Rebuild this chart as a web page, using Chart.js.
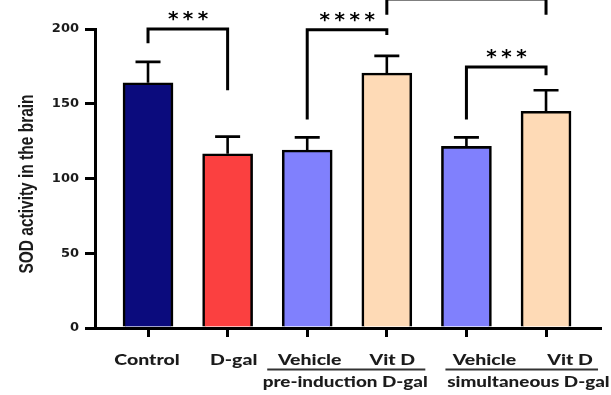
<!DOCTYPE html>
<html>
<head>
<meta charset="utf-8">
<script src="https://cdn.jsdelivr.net/npm/chart.js@4/dist/chart.umd.min.js"></script>
<style>
  html, body { margin: 0; padding: 0; background: #ffffff; }
  #wrap { width: 611px; height: 395px; position: relative; }
</style>
</head>
<body>
<div id="wrap"><canvas id="sod"></canvas></div>
<script>
// Group names under each bar
const categories = ['Control', 'D-gal', 'Vehicle', 'Vit D', 'Vehicle', 'Vit D'];
// Mean SOD activity per group
const sodMeans = [164, 116.5, 119, 170.5, 121.5, 145];
// Error (SEM) per group
const sodErrors = [14, 11.5, 8.5, 11.5, 6, 14];
// Y axis ticks
const yTicks = [0, 50, 100, 150, 200];
// Y axis caption
const yAxisTitle = 'SOD activity in the brain';
// Treatment schedule groups spanning two bars each
const scheduleGroups = ['pre-induction D-gal', 'simultaneous D-gal'];
// Pairwise comparisons: bar indices and significance stars
const compPairs = [[0, 1], [2, 3], [3, 5], [4, 5]];
const compStars = ['***', '****', '', '***'];

const barFill = ['#0b0b7d', '#fb4040', '#8080fd', '#fedab6', '#8080fd', '#fedab6'];
const ink = '#1b1b1b';

// Bracket geometry in y-axis units: [bar top, left leg end, right leg end]
const bracketLevels = [
  [200, 190.5, 159],
  [199.5, 139.5, 196],
  [220, 209.5, 209.5],
  [174.5, 139.5, 169]
];

const annotate = {
  id: 'annotate',
  afterDatasetsDraw(chart) {
    const ctx = chart.ctx;
    const xs = chart.scales.x, ys = chart.scales.y;
    const px = i => xs.getPixelForValue(i);
    ctx.save();
    ctx.strokeStyle = '#000';
    ctx.lineCap = 'butt';
    ctx.lineJoin = 'miter';

    // error bars (upper half only)
    ctx.lineWidth = 2.6;
    sodMeans.forEach((m, i) => {
      const x = px(i);
      const y0 = ys.getPixelForValue(m);
      const y1 = ys.getPixelForValue(m + sodErrors[i]);
      ctx.beginPath();
      ctx.moveTo(x, y0);
      ctx.lineTo(x, y1);
      ctx.moveTo(x - 12.5, y1);
      ctx.lineTo(x + 12.5, y1);
      ctx.stroke();
    });

    // comparison brackets
    ctx.lineWidth = 3;
    compPairs.forEach(([a, b], k) => {
      const [top, legA, legB] = bracketLevels[k];
      const xa = px(a), xb = px(b);
      const yt = ys.getPixelForValue(top);
      ctx.beginPath();
      ctx.moveTo(xa, ys.getPixelForValue(legA));
      ctx.lineTo(xa, yt);
      ctx.lineTo(xb, yt);
      ctx.lineTo(xb, ys.getPixelForValue(legB));
      ctx.stroke();
      const s = compStars[k];
      if (s) {
        ctx.fillStyle = '#000';
        ctx.font = 'bold 20px "DejaVu Sans"';
        ctx.letterSpacing = '4.5px';
        ctx.textAlign = 'center';
        ctx.textBaseline = 'alphabetic';
        const m = ctx.measureText(s);
        const target = yt - 13;
        const base = target + (m.actualBoundingBoxAscent - m.actualBoundingBoxDescent) / 2;
        ctx.fillText(s, (xa + xb) / 2 + 2.5, base);
        ctx.letterSpacing = '0px';
      }
    });

    // text drawn slightly widened horizontally
    const drawWide = (text, cx, cy, font) => {
      ctx.save();
      ctx.translate(cx, cy);
      ctx.scale(1.3, 1);
      ctx.font = font;
      ctx.fillStyle = ink;
      ctx.textAlign = 'center';
      ctx.textBaseline = 'middle';
      ctx.fillText(text, 0, 0);
      ctx.restore();
    };
    const labelShift = [-1, 6, 2.5, 5.5, 18, 24];
    categories.forEach((c, i) => drawWide(c, px(i) + labelShift[i], 360, '900 15px Lato'));

    // schedule group underlines and captions
    const spans = [[px(2) - 40, px(3) + 38.5], [px(4) - 21, px(5) + 52]];
    const captionX = [px(2) + 38, px(4) + 62];
    ctx.lineWidth = 2;
    ctx.strokeStyle = '#333';
    spans.forEach(([l, r], g) => {
      ctx.beginPath();
      ctx.moveTo(l, 369.5);
      ctx.lineTo(r, 369.5);
      ctx.stroke();
      drawWide(scheduleGroups[g], captionX[g], 382, '900 14.5px Lato');
    });

    // rotated y axis caption (glyphs widened across the text line)
    ctx.save();
    ctx.translate(27.5, (ys.top + ys.bottom) / 2 + 5.5);
    ctx.scale(1.3, 1);
    ctx.rotate(-Math.PI / 2);
    ctx.font = 'bold 15.5px "Liberation Sans"';
    ctx.fillStyle = ink;
    ctx.textAlign = 'center';
    ctx.textBaseline = 'middle';
    ctx.fillText(yAxisTitle, 0, 0);
    ctx.restore();

    ctx.restore();
  }
};

new Chart(document.getElementById('sod'), {
  type: 'bar',
  data: {
    datasets: [{
      data: categories.map((c, i) => ({ x: i, y: sodMeans[i] })),
      backgroundColor: barFill,
      borderColor: '#000',
      borderWidth: 2.6,
      barThickness: 50
    }]
  },
  options: {
    responsive: true,
    maintainAspectRatio: false,
    animation: false,
    devicePixelRatio: 1,
    layout: { padding: { top: 29, right: 11, left: 0, bottom: 0 } },
    plugins: { legend: { display: false }, tooltip: { enabled: false } },
    scales: {
      x: {
        type: 'linear',
        offset: false,
        min: -0.666,
        max: 5.678,
        afterBuildTicks: s => { s.ticks = categories.map((c, i) => ({ value: i })); },
        afterFit: s => { s.height = 67; },
        ticks: { display: false },
        grid: { display: true, offset: false, drawOnChartArea: false, drawTicks: true, tickLength: 9, tickWidth: 3, tickColor: '#000', lineWidth: 3, color: '#000' },
        border: { display: true, color: '#000', width: 3 }
      },
      y: {
        min: 0,
        max: 200,
        afterBuildTicks: s => { s.ticks = yTicks.map(v => ({ value: v })); },
        afterFit: s => { s.width = 95; },
        ticks: { color: ink, padding: 6, font: { family: 'DejaVu Sans', weight: 'bold', size: 13 } },
        grid: { display: true, drawOnChartArea: false, drawTicks: true, tickLength: 10, tickWidth: 3, tickColor: '#000', lineWidth: 3, color: '#000' },
        border: { display: true, color: '#000', width: 3 }
      }
    }
  },
  plugins: [annotate]
});
</script>
</body>
</html>
